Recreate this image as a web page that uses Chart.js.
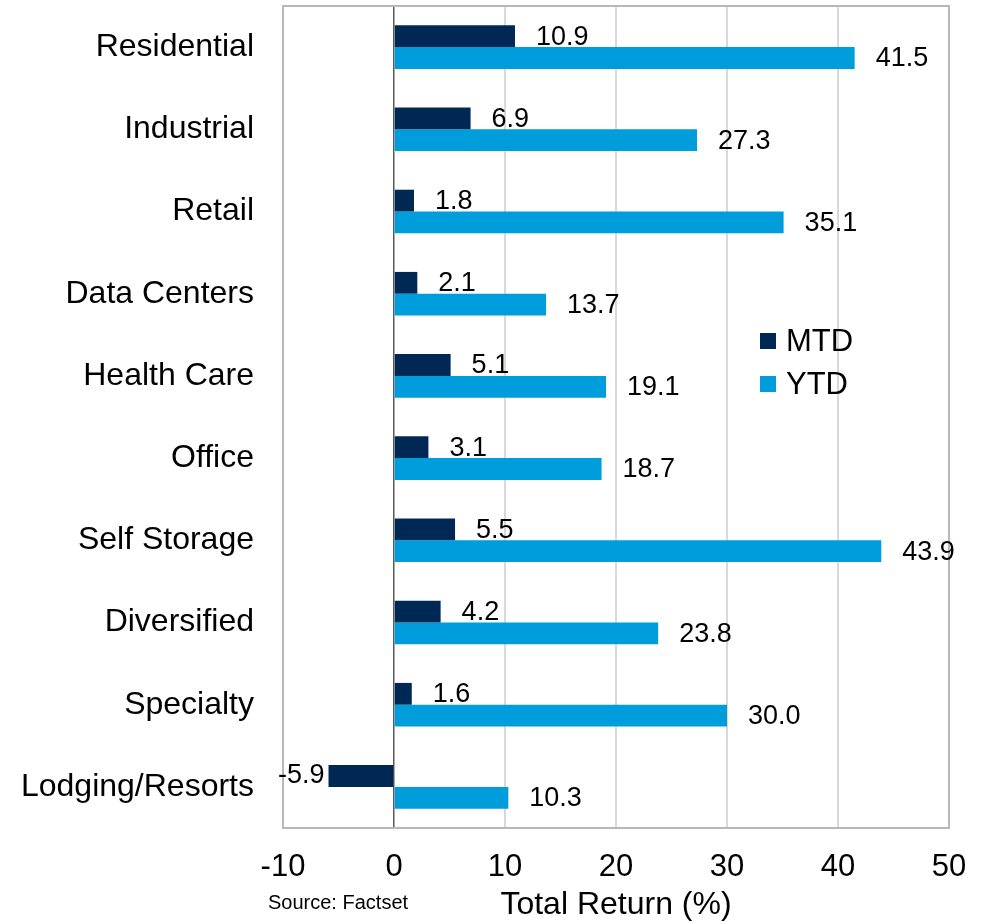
<!DOCTYPE html>
<html>
<head>
<meta charset="utf-8">
<script src="https://cdn.jsdelivr.net/npm/chart.js@4.4.1/dist/chart.umd.min.js"></script>
<style>
  html, body { margin: 0; padding: 0; background: #fff; }
  #wrap { width: 982px; height: 924px; }
</style>
</head>
<body>
<div id="wrap"><canvas id="myChart" width="982" height="924"></canvas></div>
<script>
// REIT sector returns
const sectors = ['Residential', 'Industrial', 'Retail', 'Data Centers', 'Health Care',
  'Office', 'Self Storage', 'Diversified', 'Specialty', 'Lodging/Resorts'];
const mtd = [10.9, 6.9, 1.8, 2.1, 5.1, 3.1, 5.5, 4.2, 1.6, -5.9];
const ytd = [41.5, 27.3, 35.1, 13.7, 19.1, 18.7, 43.9, 23.8, 30.0, 10.3];
const xTicks = [-10, 0, 10, 20, 30, 40, 50];

const FONT = "'Liberation Sans', Arial, sans-serif";
const MTD_COLOR = '#002855';
const YTD_COLOR = '#009ddc';

// value labels next to bar ends
const barLabels = {
  id: 'barLabels',
  afterDatasetsDraw(chart) {
    const ctx = chart.ctx;
    ctx.save();
    ctx.font = '27px ' + FONT;
    ctx.fillStyle = '#000';
    ctx.textBaseline = 'middle';
    chart.data.datasets.forEach((ds, i) => {
      chart.getDatasetMeta(i).data.forEach((bar, j) => {
        const v = ds.data[j];
        if (v >= 0) {
          ctx.textAlign = 'left';
          ctx.fillText(v.toFixed(1), bar.x + 21, bar.y + 1);
        } else {
          ctx.textAlign = 'right';
          ctx.fillText(v.toFixed(1), bar.x - 4, bar.y);
        }
      });
    });
    ctx.restore();
  }
};

// frame, legend inside plot, source note
const extras = {
  id: 'extras',
  beforeDatasetsDraw(chart) {
    const a = chart.chartArea;
    const ctx = chart.ctx;
    ctx.save();
    ctx.strokeStyle = '#b8b8b8';
    ctx.lineWidth = 2;
    ctx.strokeRect(a.left, a.top, a.right - a.left, a.bottom - a.top);
    ctx.restore();
  },
  afterDraw(chart) {
    const ctx = chart.ctx;
    ctx.save();
    const items = [['MTD', MTD_COLOR], ['YTD', YTD_COLOR]];
    ctx.font = '31px ' + FONT;
    ctx.textBaseline = 'middle';
    ctx.textAlign = 'left';
    items.forEach((it, k) => {
      const y = 341 + k * 43;
      ctx.fillStyle = it[1];
      ctx.fillRect(760, y - 8, 16, 16);
      ctx.fillStyle = '#000';
      ctx.fillText(it[0], 786, y + 1);
    });
    ctx.font = '20px ' + FONT;
    ctx.fillText('Source: Factset', 268, 903);
    ctx.restore();
  }
};

new Chart(document.getElementById('myChart'), {
  type: 'bar',
  data: {
    labels: sectors,
    datasets: [
      { label: 'MTD', data: mtd, backgroundColor: MTD_COLOR },
      { label: 'YTD', data: ytd, backgroundColor: YTD_COLOR }
    ]
  },
  options: {
    indexAxis: 'y',
    responsive: false,
    animation: false,
    devicePixelRatio: 1,
    layout: { padding: { top: 6, right: 33, left: 0, bottom: 0 } },
    datasets: { bar: { categoryPercentage: 0.53, barPercentage: 1 } },
    plugins: {
      legend: { display: false },
      tooltip: { enabled: false }
    },
    scales: {
      x: {
        min: -10,
        max: 50,
        afterBuildTicks: (s) => { s.ticks = xTicks.map(v => ({ value: v })); },
        afterFit: (s) => { s.height = 96; s.paddingLeft = 0; s.paddingRight = 0; },
        grid: {
          drawTicks: false,
          color: (c) => c.tick && c.tick.value === 0 ? '#595959' : '#d9d9d9',
          lineWidth: (c) => c.tick && c.tick.value === 0 ? 1.5 : 2
        },
        border: { display: false },
        ticks: { color: '#000', padding: 21, font: { family: FONT, size: 31 } },
        title: {
          display: true,
          text: 'Total Return (%)',
          color: '#000',
          padding: { top: 0, bottom: 0 },
          font: { family: FONT, size: 32 }
        }
      },
      y: {
        afterFit: (s) => { s.width = 283; s.paddingTop = 0; s.paddingBottom = 0; },
        grid: { display: false, drawTicks: false },
        border: { display: false },
        ticks: { color: '#000', padding: 29, font: { family: FONT, size: 32 } }
      }
    }
  },
  plugins: [barLabels, extras]
});
</script>
</body>
</html>
